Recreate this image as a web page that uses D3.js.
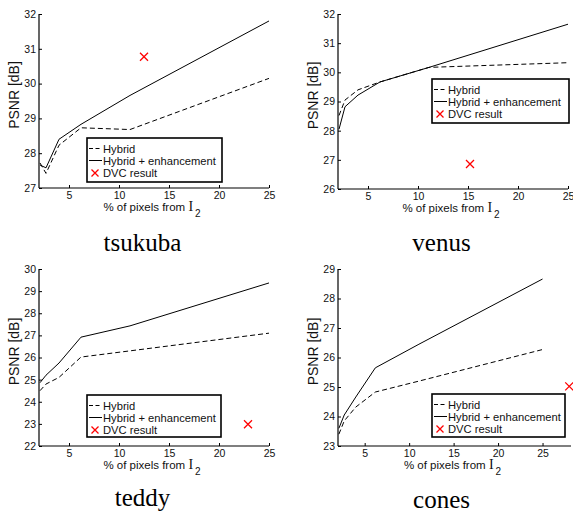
<!DOCTYPE html>
<html>
<head>
<meta charset="utf-8">
<script src="https://cdn.jsdelivr.net/npm/d3@7"></script>
<style>
  body { margin: 0; background: #fff; }
  svg { display: block; }
  .tick text { font-family: "Liberation Sans", Arial, sans-serif; }
</style>
</head>
<body>
<svg width="573" height="512"></svg>
<script>
// % of pixels from I2 (x positions of the measured points)
const xPct = [2.1, 2.7, 4.0, 6.2, 11.1, 25];

// PSNR values [dB]
const tsukubaHybrid = [27.72, 27.42, 28.23, 28.73, 28.68, 30.15];
const tsukubaEnh    = [27.66, 27.58, 28.40, 28.83, 29.66, 31.80];
const tsukubaDvc    = [12.5, 30.77];

const venusHybrid = [28.52, 29.05, 29.40, 29.67, 30.17, 30.33];
const venusEnh    = [28.05, 28.82, 29.22, 29.67, 30.17, 31.65];
const venusDvc    = [15.2, 26.86];

const teddyHybrid = [24.50, 24.80, 25.10, 26.02, 26.30, 27.10];
const teddyEnh    = [24.86, 25.20, 25.75, 26.92, 27.43, 29.37];
const teddyDvc    = [22.9, 22.98];

const conesHybrid = [23.40, 23.85, 24.32, 24.83, 25.20, 26.27];
const conesEnh    = [23.60, 24.05, 24.66, 25.65, 26.45, 28.66];
const conesDvc    = [28.0, 25.02];

const xTicks = [5, 10, 15, 20, 25];
const legendLabels = ["Hybrid", "Hybrid + enhancement", "DVC result"];

const panels = [
  { name: "tsukuba", hybrid: tsukubaHybrid, enh: tsukubaEnh, dvc: tsukubaDvc,
    xDom: [2, 25], yDom: [27, 32], yTicks: d3.range(27, 33),
    box: [39, 14, 269, 188], legend: [87, 138, 135, 44], titleY: 251 },
  { name: "venus", hybrid: venusHybrid, enh: venusEnh, dvc: venusDvc,
    xDom: [2, 25], yDom: [26, 32], yTicks: d3.range(26, 33),
    box: [338, 14, 568, 189], legend: [432, 79, 137, 44], titleY: 251 },
  { name: "teddy", hybrid: teddyHybrid, enh: teddyEnh, dvc: teddyDvc,
    xDom: [2, 25], yDom: [22, 30], yTicks: d3.range(22, 31),
    box: [39, 269, 269, 446], legend: [87, 395, 134, 42], titleY: 506 },
  { name: "cones", hybrid: conesHybrid, enh: conesEnh, dvc: conesDvc,
    xDom: [2, 28.2], yDom: [23, 29], yTicks: d3.range(23, 30),
    box: [338, 269, 571, 446], legend: [432, 394, 133, 43], titleY: 508 }
];

const svg = d3.select("svg");

function cross(g, cx, cy, r) {
  g.append("path")
    .attr("d", `M${cx - r},${cy - r}L${cx + r},${cy + r}M${cx - r},${cy + r}L${cx + r},${cy - r}`)
    .attr("stroke", "#ff0000")
    .attr("stroke-width", 1.3)
    .attr("fill", "none");
}

panels.forEach(p => {
  const [x0, y0, x1, y1] = p.box;
  const x = d3.scaleLinear().domain(p.xDom).range([x0, x1]);
  const y = d3.scaleLinear().domain(p.yDom).range([y1, y0]);
  const g = svg.append("g");

  const line = d3.line()
    .x((d, i) => x(xPct[i]))
    .y(d => y(d));

  g.append("path")
    .datum(p.hybrid)
    .attr("d", line)
    .attr("fill", "none")
    .attr("stroke", "#000")
    .attr("stroke-width", 1)
    .attr("stroke-dasharray", "5,3");

  g.append("path")
    .datum(p.enh)
    .attr("d", line)
    .attr("fill", "none")
    .attr("stroke", "#000")
    .attr("stroke-width", 1);

  cross(g, x(p.dvc[0]), y(p.dvc[1]), 4);

  // axes (MATLAB style, ticks inside, box off)
  const xAxis = g.append("g")
    .attr("transform", `translate(0,${y1})`)
    .call(d3.axisBottom(x).tickValues(xTicks).tickSize(-3).tickPadding(4).tickFormat(d3.format("d")));
  const yAxis = g.append("g")
    .attr("transform", `translate(${x0},0)`)
    .call(d3.axisLeft(y).tickValues(p.yTicks).tickSize(-3).tickPadding(3).tickFormat(d3.format("d")));

  [xAxis, yAxis].forEach(a => {
    a.select(".domain").attr("stroke", "#000").attr("stroke-width", 1.2)
      .attr("d", a === xAxis ? `M${x0},0H${x1}` : `M0,${y1}V${y0}`);
    a.selectAll(".tick line").attr("stroke", "#000");
    a.selectAll(".tick text").attr("fill", "#111").attr("font-size", 10.5);
  });

  // y label
  g.append("text")
    .attr("transform", `translate(${x0 - 20},${(y0 + y1) / 2 - 6}) rotate(-90)`)
    .attr("text-anchor", "middle")
    .attr("font-family", "Liberation Sans, Arial, sans-serif")
    .attr("font-size", 14)
    .attr("fill", "#111")
    .text("PSNR [dB]");

  // x label
  const xl = g.append("text")
    .attr("x", (x0 + x1) / 2 - 2)
    .attr("y", y1 + 23)
    .attr("text-anchor", "middle")
    .attr("font-family", "Liberation Sans, Arial, sans-serif")
    .attr("font-size", 11.5)
    .attr("fill", "#111");
  xl.append("tspan").text("% of pixels from  ");
  xl.append("tspan").attr("font-family", "Liberation Serif, Times New Roman, serif").attr("font-size", 14).text("I");
  xl.append("tspan").attr("font-size", 10).attr("dx", 2).attr("dy", 6).text("2");

  // legend
  const [lx, ly, lw, lh] = p.legend;
  const lg = g.append("g").attr("transform", `translate(${lx},${ly})`);
  lg.append("rect")
    .attr("width", lw).attr("height", lh)
    .attr("fill", "#fff").attr("stroke", "#000").attr("stroke-width", 1.6);
  const rows = [10.5, 22.5, 35];
  legendLabels.forEach((lab, i) => {
    const ry = rows[i];
    if (i === 2) {
      cross(lg, 8, ry, 3.5);
    } else {
      lg.append("line")
        .attr("x1", 2).attr("x2", 15).attr("y1", ry).attr("y2", ry)
        .attr("stroke", "#000").attr("stroke-width", 1)
        .attr("stroke-dasharray", i === 0 ? "4,2.5" : null);
    }
    lg.append("text")
      .attr("x", 16).attr("y", ry + 4)
      .attr("font-family", "Liberation Sans, Arial, sans-serif")
      .attr("font-size", 11.2)
      .attr("fill", "#111")
      .text(lab);
  });

  // title
  svg.append("text")
    .attr("x", x0 + 103.5)
    .attr("y", p.titleY)
    .attr("text-anchor", "middle")
    .attr("font-family", "Liberation Serif, Times New Roman, serif")
    .attr("font-size", 25)
    .attr("fill", "#000")
    .text(p.name);
});
</script>
</body>
</html>
